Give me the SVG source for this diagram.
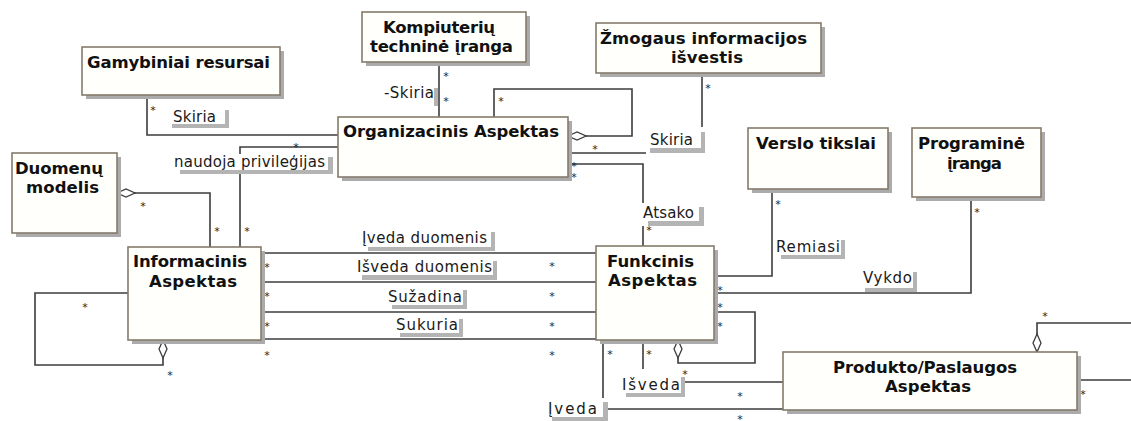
<svg xmlns="http://www.w3.org/2000/svg" width="1131" height="421" viewBox="0 0 1131 421">
  <style>
    .box { fill: #fffffb; stroke: #857b6c; stroke-width: 1.6; }
    .shadow { fill: #ababab; }
    .title { font-family: "DejaVu Sans", Verdana, sans-serif; font-weight: bold; font-size: 16.5px; fill: #111; }
    .conn { fill: none; stroke: #3c3c3c; stroke-width: 1.6; }
    .lbl-bg { fill: #ffffff; }
    .lbl-sh { fill: #b4b4b4; }
    .lbl { font-family: "DejaVu Sans", Verdana, sans-serif; font-size: 15px; fill: #1a1a1a; }
    .mult { font-family: "DejaVu Sans", Verdana, sans-serif; font-size: 11px; fill: #222; text-anchor: middle; }
  </style>
  <defs>
    <!-- hollow aggregation diamond, drawn along the path from its start point -->
    <marker id="agg" markerUnits="userSpaceOnUse" viewBox="-1 -1 21 11" refX="0" refY="4.5" markerWidth="21" markerHeight="11" orient="auto">
      <path d="M0,4.5 L9,0.5 L18,4.5 L9,8.5 Z" fill="#ffffff" stroke="#3c3c3c" stroke-width="1.3"/>
    </marker>
  </defs>

  <rect width="1131" height="421" fill="#ffffff"/>

  <!-- associations -->
  <g id="connectors">
    <path class="conn" d="M147,95 V135 H338"/>
    <path class="conn" d="M439,62 V117"/>
    <path class="conn" d="M568,136 H632 V89 H494 V117" marker-start="url(#agg)"/>
    <path class="conn" d="M568,153 H702 V73"/>
    <path class="conn" d="M568,164 H643 V246"/>
    <path class="conn" d="M338,147 H240 V247"/>
    <path class="conn" d="M117,193 H210 V247" marker-start="url(#agg)"/>
    <path class="conn" d="M261,253 H596"/>
    <path class="conn" d="M261,282 H596"/>
    <path class="conn" d="M261,312 H596"/>
    <path class="conn" d="M261,339 H596"/>
    <path class="conn" d="M163,340 V365 H35 V293 H128" marker-start="url(#agg)"/>
    <path class="conn" d="M714,276 H772 V189"/>
    <path class="conn" d="M714,293 H971 V197"/>
    <path class="conn" d="M678,340 V363 H755 V312 H714" marker-start="url(#agg)"/>
    <path class="conn" d="M643,340 V382 H783"/>
    <path class="conn" d="M603,340 V409 H783"/>
    <path class="conn" d="M1037,352 V323 H1131" marker-start="url(#agg)"/>
    <path class="conn" d="M1077,380 H1131"/>

    <!-- association names -->
    <g id="label-skiria-1">
      <rect class="lbl-bg" x="168" y="104" width="61" height="24"/>
      <rect class="lbl-sh" x="225" y="110" width="4" height="18"/>
      <rect class="lbl-sh" x="172" y="124" width="57" height="4"/>
      <text class="lbl" x="173" y="122" textLength="43">Skiria</text>
    </g>
    <g id="label-skiria-2">
      <rect class="lbl-sh" x="434" y="88" width="4" height="18"/>
      <text class="lbl" x="384" y="98" textLength="50">-Skiria</text>
    </g>
    <g id="label-skiria-3">
      <rect class="lbl-bg" x="646" y="127" width="60" height="27"/>
      <rect class="lbl-sh" x="701" y="132" width="4" height="21"/>
      <rect class="lbl-sh" x="650" y="148" width="55" height="5"/>
      <text class="lbl" x="650" y="145" textLength="43">Skiria</text>
    </g>
    <g id="label-naudoja">
      <rect class="lbl-bg" x="171" y="154" width="162" height="20"/>
      <rect class="lbl-sh" x="328" y="157" width="5" height="17"/>
      <rect class="lbl-sh" x="180" y="170" width="153" height="4"/>
      <text class="lbl" x="174" y="167" textLength="151">naudoja privileģijas</text>
    </g>
    <g id="label-atsako">
      <rect class="lbl-bg" x="640" y="203" width="64" height="23"/>
      <rect class="lbl-sh" x="699" y="207" width="5" height="19"/>
      <rect class="lbl-sh" x="648" y="221" width="56" height="5"/>
      <text class="lbl" x="643" y="218" textLength="51">Atsako</text>
    </g>
    <g id="label-iveda-duomenis">
      <rect class="lbl-bg" x="359" y="229" width="136" height="22"/>
      <rect class="lbl-sh" x="491" y="232" width="4" height="19"/>
      <rect class="lbl-sh" x="368" y="247" width="127" height="4"/>
      <text class="lbl" x="362" y="243" textLength="125">Įveda duomenis</text>
    </g>
    <g id="label-isveda-duomenis">
      <rect class="lbl-bg" x="354" y="257" width="143" height="23"/>
      <rect class="lbl-sh" x="493" y="261" width="4" height="19"/>
      <rect class="lbl-sh" x="362" y="275" width="135" height="5"/>
      <text class="lbl" x="357" y="272" textLength="135">Išveda duomenis</text>
    </g>
    <g id="label-suzadina">
      <rect class="lbl-bg" x="385" y="286" width="82" height="23"/>
      <rect class="lbl-sh" x="463" y="290" width="4" height="19"/>
      <rect class="lbl-sh" x="392" y="305" width="75" height="4"/>
      <text class="lbl" x="388" y="302" textLength="74">Sužadina</text>
    </g>
    <g id="label-sukuria">
      <rect class="lbl-bg" x="393" y="315" width="70" height="22"/>
      <rect class="lbl-sh" x="459" y="319" width="4" height="18"/>
      <rect class="lbl-sh" x="400" y="333" width="63" height="4"/>
      <text class="lbl" x="396" y="330" textLength="62">Sukuria</text>
    </g>
    <g id="label-remiasi">
      <rect class="lbl-bg" x="774" y="236" width="71" height="23"/>
      <rect class="lbl-sh" x="841" y="240" width="4" height="19"/>
      <rect class="lbl-sh" x="781" y="255" width="64" height="4"/>
      <text class="lbl" x="776" y="252" textLength="64">Remiasi</text>
    </g>
    <g id="label-vykdo">
      <rect class="lbl-bg" x="860" y="268" width="57" height="24"/>
      <rect class="lbl-sh" x="913" y="272" width="4" height="20"/>
      <rect class="lbl-sh" x="865" y="288" width="52" height="4"/>
      <text class="lbl" x="863" y="283" textLength="49">Vykdo</text>
    </g>
    <g id="label-isveda">
      <rect class="lbl-bg" x="618" y="369" width="67" height="28"/>
      <rect class="lbl-sh" x="681" y="377" width="4" height="20"/>
      <rect class="lbl-sh" x="626" y="393" width="59" height="4"/>
      <text class="lbl" x="622" y="390" textLength="58">Išveda</text>
    </g>
    <g id="label-iveda">
      <rect class="lbl-bg" x="545" y="398" width="63" height="23"/>
      <rect class="lbl-sh" x="603" y="402" width="5" height="19"/>
      <rect class="lbl-sh" x="552" y="417" width="56" height="4"/>
      <text class="lbl" x="548" y="414" textLength="49">Įveda</text>
    </g>

    <!-- multiplicities -->
    <g id="multiplicities">
      <text class="mult" x="153" y="114">*</text>
      <text class="mult" x="446" y="80">*</text>
      <text class="mult" x="446" y="105">*</text>
      <text class="mult" x="501" y="105">*</text>
      <text class="mult" x="595" y="153">*</text>
      <text class="mult" x="574" y="170">*</text>
      <text class="mult" x="574" y="181">*</text>
      <text class="mult" x="708" y="92">*</text>
      <text class="mult" x="296" y="151">*</text>
      <text class="mult" x="247" y="235">*</text>
      <text class="mult" x="217" y="235">*</text>
      <text class="mult" x="143" y="210">*</text>
      <text class="mult" x="267" y="271">*</text>
      <text class="mult" x="267" y="300">*</text>
      <text class="mult" x="267" y="330">*</text>
      <text class="mult" x="267" y="359">*</text>
      <text class="mult" x="552" y="270">*</text>
      <text class="mult" x="552" y="300">*</text>
      <text class="mult" x="552" y="330">*</text>
      <text class="mult" x="552" y="359">*</text>
      <text class="mult" x="85" y="311">*</text>
      <text class="mult" x="170" y="379">*</text>
      <text class="mult" x="649" y="234">*</text>
      <text class="mult" x="778" y="208">*</text>
      <text class="mult" x="977" y="216">*</text>
      <text class="mult" x="720" y="294">*</text>
      <text class="mult" x="720" y="311">*</text>
      <text class="mult" x="720" y="330">*</text>
      <text class="mult" x="610" y="358">*</text>
      <text class="mult" x="649" y="358">*</text>
      <text class="mult" x="685" y="378">*</text>
      <text class="mult" x="740" y="400">*</text>
      <text class="mult" x="740" y="423">*</text>
      <text class="mult" x="1045" y="320">*</text>
      <text class="mult" x="1083" y="398">*</text>
    </g>
  </g>

  <!-- classes -->
  <g id="gamybiniai-resursai">
    <rect class="shadow" x="86" y="51" width="198" height="48"/>
    <rect class="box" x="82" y="47" width="198" height="48"/>
    <text class="title" x="87" y="68" textLength="183">Gamybiniai resursai</text>
  </g>
  <g id="kompiuteriu-technine-iranga">
    <rect class="shadow" x="366" y="16" width="164" height="50"/>
    <rect class="box" x="362" y="12" width="164" height="50"/>
    <text class="title" x="383" y="33" textLength="112">Kompiuterių</text>
    <text class="title" x="370" y="52" textLength="143">techninė įranga</text>
  </g>
  <g id="zmogaus-informacijos-isvestis">
    <rect class="shadow" x="600" y="27" width="225" height="50"/>
    <rect class="box" x="596" y="23" width="225" height="50"/>
    <text class="title" x="600" y="44" textLength="207">Žmogaus informacijos</text>
    <text class="title" x="671" y="63" textLength="72">išvestis</text>
  </g>
  <g id="organizacinis-aspektas">
    <rect class="shadow" x="342" y="121" width="230" height="60"/>
    <rect class="box" x="338" y="117" width="230" height="60"/>
    <text class="title" x="343" y="137" textLength="216">Organizacinis Aspektas</text>
  </g>
  <g id="duomenu-modelis">
    <rect class="shadow" x="16" y="157" width="105" height="80"/>
    <rect class="box" x="12" y="153" width="105" height="80"/>
    <text class="title" x="15" y="174" textLength="88">Duomenų</text>
    <text class="title" x="26" y="193" textLength="73">modelis</text>
  </g>
  <g id="verslo-tikslai">
    <rect class="shadow" x="752" y="132" width="140" height="61"/>
    <rect class="box" x="748" y="128" width="140" height="61"/>
    <text class="title" x="756" y="149" textLength="120">Verslo tikslai</text>
  </g>
  <g id="programine-iranga">
    <rect class="shadow" x="916" y="132" width="129" height="69"/>
    <rect class="box" x="912" y="128" width="129" height="69"/>
    <text class="title" x="918" y="149" textLength="107">Programinė</text>
    <text class="title" x="947" y="169" textLength="55">įranga</text>
  </g>
  <g id="informacinis-aspektas">
    <rect class="shadow" x="132" y="251" width="133" height="93"/>
    <rect class="box" x="128" y="247" width="133" height="93"/>
    <text class="title" x="133" y="267" textLength="114">Informacinis</text>
    <text class="title" x="149" y="287" textLength="88">Aspektas</text>
  </g>
  <g id="funkcinis-aspektas">
    <rect class="shadow" x="600" y="250" width="118" height="94"/>
    <rect class="box" x="596" y="246" width="118" height="94"/>
    <text class="title" x="607" y="267" textLength="87">Funkcinis</text>
    <text class="title" x="608" y="286" textLength="89">Aspektas</text>
  </g>
  <g id="produkto-paslaugos-aspektas">
    <rect class="shadow" x="787" y="356" width="294" height="58"/>
    <rect class="box" x="783" y="352" width="294" height="58"/>
    <text class="title" x="833" y="373" textLength="184">Produkto/Paslaugos</text>
    <text class="title" x="885" y="392" textLength="86">Aspektas</text>
  </g>
</svg>
